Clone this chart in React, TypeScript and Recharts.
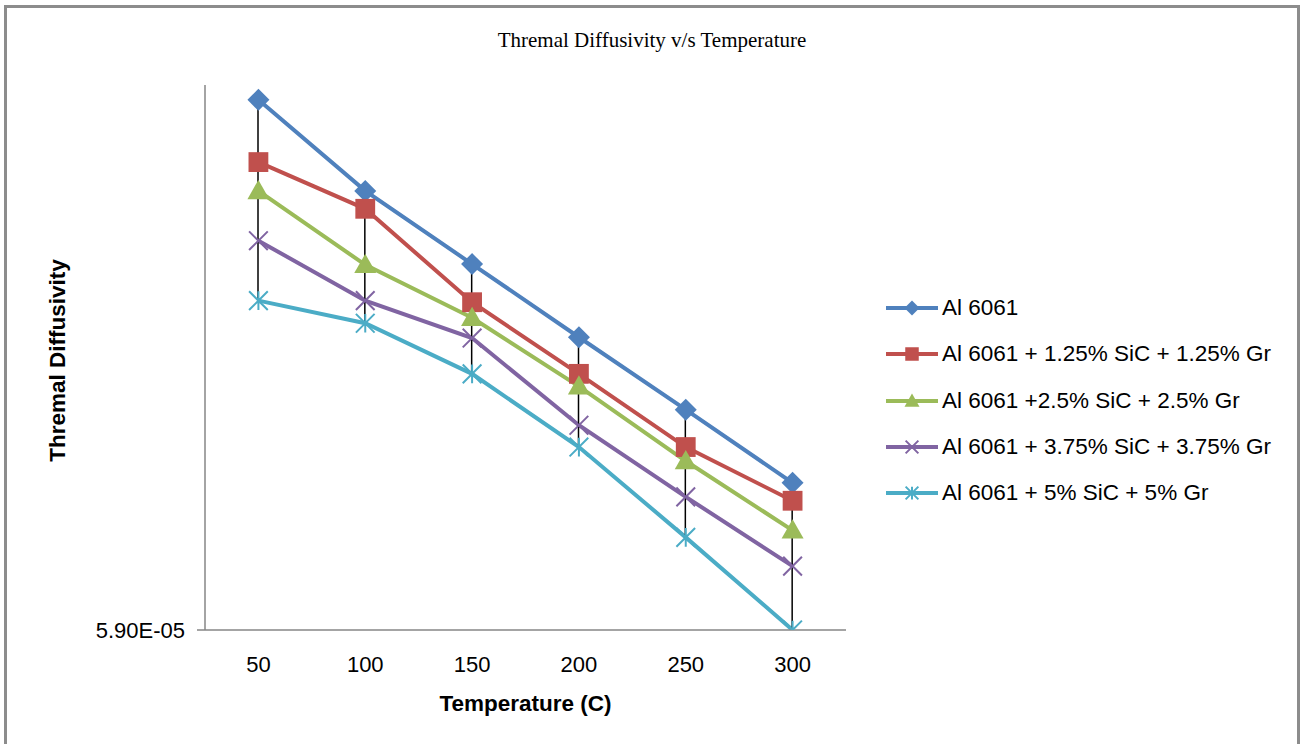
import React from 'react';
import { ComposedChart, Line, Bar, XAxis, YAxis, Legend } from 'recharts';

// Temperature categories (C)
const temperatures = [50, 100, 150, 200, 250, 300];

// Thermal diffusivity per alloy (m^2/s)
const al6061 = [6.581e-5, 6.464e-5, 6.37e-5, 6.276e-5, 6.183e-5, 6.089e-5];
const sic125 = [6.501e-5, 6.441e-5, 6.321e-5, 6.229e-5, 6.135e-5, 6.066e-5];
const sic25 = [6.464e-5, 6.369e-5, 6.301e-5, 6.213e-5, 6.117e-5, 6.028e-5];
const sic375 = [6.4e-5, 6.323e-5, 6.275e-5, 6.163e-5, 6.071e-5, 5.982e-5];
const sic5 = [6.323e-5, 6.294e-5, 6.229e-5, 6.135e-5, 6.019e-5, 5.9e-5];

const seriesNames = [
  'Al 6061',
  'Al 6061 + 1.25% SiC + 1.25% Gr',
  'Al 6061 +2.5% SiC + 2.5% Gr',
  'Al 6061 + 3.75% SiC + 3.75% Gr',
  'Al 6061 + 5% SiC + 5% Gr',
];

const yTicks = [5.9e-5];
const yDomain = [5.9e-5, 6.6e-5];

type Marker = 'diamond' | 'square' | 'triangle' | 'cross' | 'star';

const series: { key: string; values: number[]; color: string; marker: Marker }[] = [
  { key: 's0', values: al6061, color: '#4F81BD', marker: 'diamond' },
  { key: 's1', values: sic125, color: '#C0504D', marker: 'square' },
  { key: 's2', values: sic25, color: '#9BBB59', marker: 'triangle' },
  { key: 's3', values: sic375, color: '#8064A2', marker: 'cross' },
  { key: 's4', values: sic5, color: '#4BACC6', marker: 'star' },
];

const data = temperatures.map((t, i) => {
  const row: Record<string, any> = { temp: t };
  const vals = series.map((s) => s.values[i]);
  series.forEach((s) => {
    row[s.key] = s.values[i];
  });
  row.hl = [Math.min(...vals), Math.max(...vals)];
  return row;
});

const sciFormat = (v: number) => {
  const [m, e] = v.toExponential(2).split('e');
  const n = Number(e);
  const sign = n < 0 ? '-' : '+';
  return `${m}E${sign}${String(Math.abs(n)).padStart(2, '0')}`;
};

const drawMarker = (marker: Marker, cx: number, cy: number, r: number, color: string) => {
  switch (marker) {
    case 'diamond':
      return <polygon points={`${cx},${cy - r} ${cx + r},${cy} ${cx},${cy + r} ${cx - r},${cy}`} fill={color} />;
    case 'square':
      return <rect x={cx - r * 0.9} y={cy - r * 0.9} width={r * 1.8} height={r * 1.8} fill={color} />;
    case 'triangle':
      return <polygon points={`${cx},${cy - r} ${cx + r},${cy + r * 0.75} ${cx - r},${cy + r * 0.75}`} fill={color} />;
    case 'cross': {
      const d = r * 0.85;
      return (
        <path
          d={`M${cx - d},${cy - d}L${cx + d},${cy + d}M${cx - d},${cy + d}L${cx + d},${cy - d}`}
          stroke={color}
          strokeWidth={2}
          fill="none"
        />
      );
    }
    case 'star': {
      const d = r * 0.85;
      return (
        <path
          d={`M${cx - d},${cy - d}L${cx + d},${cy + d}M${cx - d},${cy + d}L${cx + d},${cy - d}M${cx},${cy - d}L${cx},${cy + d}`}
          stroke={color}
          strokeWidth={2}
          fill="none"
        />
      );
    }
  }
  return null;
};

const makeDot = (marker: Marker, color: string) => (props: any) => {
  const { cx, cy, index } = props;
  if (cx == null || cy == null) return <g key={index} />;
  return <g key={index}>{drawMarker(marker, cx, cy, 11, color)}</g>;
};

// thin black vertical line spanning the min..max of every category
const HighLowLine = (props: any) => {
  const { x, y, width, height } = props;
  const cx = x + width / 2;
  const top = Math.min(y, y + height);
  const bottom = Math.max(y, y + height);
  return <line x1={cx} x2={cx} y1={top} y2={bottom} stroke="#000" strokeWidth={1.5} />;
};

const LegendContent = (props: any) => {
  const entries = [...(props.payload || [])].sort(
    (a: any, b: any) =>
      series.findIndex((s) => s.key === a.dataKey) - series.findIndex((s) => s.key === b.dataKey),
  );
  return (
    <div>
      {entries.map((entry: any, i: number) => {
        const s = series.find((x) => x.key === entry.dataKey);
        if (!s) return null;
        return (
          <div key={i} style={{ display: 'flex', alignItems: 'center', height: 46.25 }}>
            <svg width={56} height={20} style={{ marginRight: 2 }}>
              <line x1={2} x2={54} y1={10} y2={10} stroke={s.color} strokeWidth={4} />
              {drawMarker(s.marker, 28, 10, 7.5, s.color)}
            </svg>
            <span style={{ fontFamily: '"Liberation Sans", Arial, sans-serif', fontSize: 22.5, color: '#000' }}>
              {entry.value}
            </span>
          </div>
        );
      })}
    </div>
  );
};

const axisFont = { fontFamily: '"Liberation Sans", Arial, sans-serif', fontSize: 22, fill: '#000' };
const titleFont = { fontFamily: '"Liberation Sans", Arial, sans-serif', fontSize: 22.5, fontWeight: 'bold', fill: '#000' };

export default function App() {
  return (
    <div style={{ position: 'absolute', left: 0, top: 0, width: 1300, height: 744, background: '#fff', overflow: 'hidden' }}>
      <div
        style={{
          position: 'absolute',
          left: 4,
          top: 5,
          width: 1296,
          height: 800,
          boxSizing: 'border-box',
          border: '3px solid #8c8c8c',
        }}
      />
      <div
        style={{
          position: 'absolute',
          left: 0,
          top: 28,
          width: 1304,
          textAlign: 'center',
          fontFamily: '"Liberation Serif", "Times New Roman", serif',
          fontSize: 21,
          color: '#000',
        }}
      >
        Thremal Diffusivity v/s Temperature
      </div>
      <div style={{ position: 'absolute', left: 0, top: 0 }}>
        <ComposedChart width={1300} height={744} data={data} margin={{ top: 85, right: 454, bottom: 0, left: 0 }}>
          <XAxis
            dataKey="temp"
            height={114}
            tickLine={false}
            axisLine={{ stroke: '#868686', strokeWidth: 1.5 }}
            tick={axisFont}
            tickMargin={20}
            label={{ value: 'Temperature (C)', position: 'center', dy: 16, style: titleFont }}
          />
          <YAxis
            type="number"
            width={205}
            domain={yDomain}
            ticks={yTicks}
            allowDataOverflow
            tickFormatter={sciFormat}
            tickSize={8}
            tickMargin={12}
            tickLine={{ stroke: '#868686', strokeWidth: 1.5 }}
            axisLine={{ stroke: '#868686', strokeWidth: 1.5 }}
            tick={axisFont}
            label={{ value: 'Thremal Diffusivity', angle: -90, position: 'center', dx: -45, dy: 3, style: titleFont }}
          />
          {series.map((s, i) => (
            <Line
              key={s.key}
              dataKey={s.key}
              name={seriesNames[i]}
              stroke={s.color}
              strokeWidth={4}
              dot={makeDot(s.marker, s.color)}
              activeDot={false}
              isAnimationActive={false}
            />
          ))}
          <Bar
            dataKey="hl"
            barSize={2}
            fill="#000"
            shape={HighLowLine}
            legendType="none"
            isAnimationActive={false}
            zIndex={450}
          />
          <Legend
            layout="vertical"
            align="center"
            verticalAlign="middle"
            width={420}
            wrapperStyle={{ left: 884, top: 285 }}
            content={LegendContent}
          />
        </ComposedChart>
      </div>
    </div>
  );
}
